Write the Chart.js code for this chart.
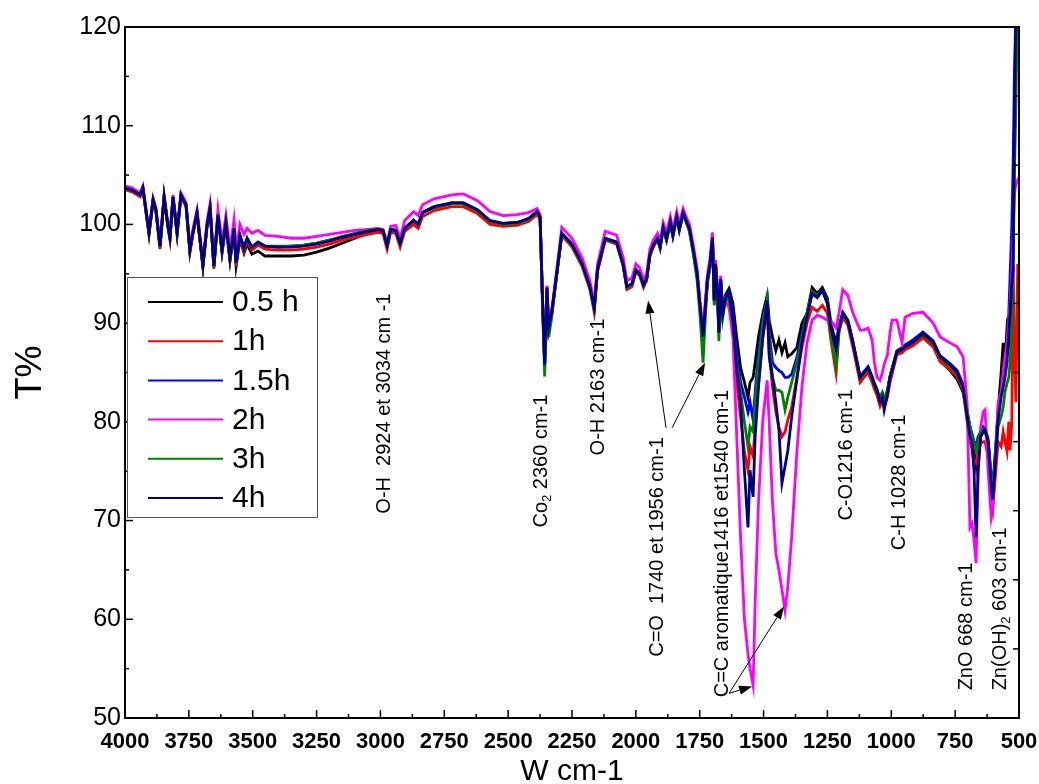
<!DOCTYPE html>
<html><head><meta charset="utf-8">
<script src="https://cdn.jsdelivr.net/npm/chart.js@4/dist/chart.umd.min.js"></script>
<style>html,body{margin:0;padding:0;background:#fff;}canvas{display:block;}</style>
</head><body>
<canvas id="c" width="1039" height="784"></canvas>
<script>
// ---------- DATA ----------
const wavenumbers = [4000,3973,3941,3930,3906,3890,3879,3863,3847,3832, 3824,3812,3796,3781,3761,3746,3734,3718,3706,3695, 3679,3667,3652,3636,3620,3605,3589,3573,3565,3550, 3534,3522,3503,3479,3452,3400,3350,3300,3250,3200, 3150,3100,3050,3010,2990,2974,2960,2940,2923,2905, 2870,2852,2835,2790,2720,2676,2620,2571,2520,2465, 2420,2387,2375,2365,2357,2348,2341,2330,2310,2290, 2250,2210,2180,2163,2150,2120,2075,2050,2035,2015, 2000,1985,1970,1958,1945,1930,1915,1905,1893,1880, 1865,1855,1840,1830,1815,1800,1790,1775,1760,1748, 1737,1727,1720,1710,1700,1693,1688,1680,1675,1668, 1660,1650,
1635,1620,1605,1590,1575,1561,1553,1541,1533,1520, 1503,1486,1478,1465,1452,1440,1428,1416,1405,1390, 1370,1350,1330,1310,1290,1270,
1250,1235,1216,1205,1190,1170,1150,1122,1110,1091, 1075,1066,1056,1044,1035,1028,1015,1005,997,978, 958,946,915,876,836,809,770,742,719,703, 692,684,676,668,660,650,640,633,621,609, 603,594,582,570,562,555,547,540,535,528, 523,518,512,505,500];

const t05h = [103.6,103.4,102.9,103.6,99.1,102.4,101.4,97.7,102.7,99.8, 98.6,102.7,99.1,102.9,101.9,97.3,99.1,101.1,98.3,95.8, 99.8,101.6,95.7,100.9,97.2,100.0,96.3,99.3,95.8,98.5, 97.1,98.0,97.0,97.3,96.8,96.8,96.8,96.9,97.2,97.6, 98.1,98.6,99.1,99.4,99.4,98.0,99.5,99.4,98.2,99.6, 100.4,100.0,101.2,101.7,102.1,102.1,101.4,100.3,100.0,100.1, 100.5,101.2,100.7,92.0,86.0,93.5,89.4,90.9,94.9,99.0, 97.9,95.9,93.6,91.5,95.4,98.5,98.1,95.9,93.6,93.9, 95.3,94.9,93.8,94.4,96.9,97.9,98.5,97.7,99.6,98.5, 100.2,98.9,100.7,99.5,101.1,100.1,99.5,97.3,94.9,91.5, 89.0,92.0,94.3,95.9,98.6,92.2,95.9,92.9,89.2,94.4, 91.2,92.8,
93.5,92.0,88.5,85.5,84.0,82.5,84.0,84.5,86.0,88.6, 91.0,92.8,90.3,88.6,87.2,88.3,87.0,88.0,86.6,86.9, 87.5,90.0,91.0,93.6,93.0,93.6,
92.5,89.8,88.0,89.6,91.0,90.2,88.0,84.4,84.8,85.4, 84.4,83.7,83.1,82.3,82.8,82.0,83.2,84.6,85.4,87.0, 87.1,87.4,87.9,88.8,87.8,86.2,85.2,84.3,83.0,81.0, 79.5,78.5,77.0,75.5,77.5,78.5,79.0,79.0,78.0,74.0, 73.0,76.0,81.0,85.0,88.0,86.0,89.5,88.5,92.0,95.0, 98.0,110.0,122.0,125.0,125.0];

const t1h = [103.5,103.3,102.8,103.5,98.9,102.3,101.3,97.5,102.6,99.7, 98.4,102.6,98.9,102.8,101.8,97.1,99.0,101.0,98.2,95.6, 99.7,101.5,95.5,100.8,97.1,99.9,96.3,99.3,95.8,98.6, 97.3,98.3,97.4,97.9,97.5,97.4,97.4,97.5,97.7,98.0, 98.4,98.7,99.0,99.2,99.1,97.5,99.2,99.1,97.7,99.3, 100.0,99.6,100.8,101.4,101.8,101.8,101.1,100.0,99.8,99.9, 100.3,101.0,100.5,91.8,85.8,93.4,89.3,90.8,94.8,98.9, 97.7,95.7,93.4,91.1,95.2,98.4,98.0,95.8,93.4,93.7, 95.2,94.8,93.6,94.3,96.8,97.8,98.4,97.6,99.5,98.4, 100.1,98.8,100.6,99.4,101.0,100.0,99.3,97.1,94.7,91.3, 88.8,91.8,94.1,95.7,98.4,92.0,95.7,92.7,89.0,94.2, 91.0,92.4,
92.5,89.5,84.0,80.5,77.0,75.1,77.5,76.5,79.5,84.0, 88.5,91.5,87.0,83.5,81.0,79.5,78.5,79.0,80.2,81.5, 84.5,87.5,90.0,91.6,91.2,91.8,
91.0,88.0,84.9,89.0,90.6,89.8,87.5,84.0,84.4,85.0, 84.0,83.3,82.7,81.6,82.2,81.5,82.5,84.0,84.8,86.8, 87.0,87.3,87.7,88.5,87.6,86.1,85.3,84.6,83.2,80.0, 78.0,77.2,76.0,75.8,77.0,77.8,78.0,78.0,76.5,72.0, 71.0,74.0,78.0,77.5,79.0,78.0,77.0,80.0,77.1,80.0, 95.7,88.0,82.0,96.0,94.0];

const t15h = [103.6,103.5,103.0,103.7,99.2,102.5,101.5,97.8,102.8,99.9, 98.7,102.8,99.2,103.0,102.0,97.4,99.2,101.2,98.4,95.9, 99.9,101.7,95.8,101.0,97.4,100.2,96.6,99.6,96.1,98.9, 97.6,98.6,97.7,98.2,97.8,97.7,97.8,97.9,98.1,98.4, 98.7,99.0,99.3,99.5,99.4,97.9,99.5,99.4,98.2,99.6, 100.4,100.0,101.2,101.8,102.1,102.1,101.4,100.3,100.1,100.2, 100.6,101.3,100.8,92.0,85.9,93.6,89.4,90.9,95.0,99.1, 98.0,96.0,93.7,91.6,95.5,98.6,98.2,96.0,93.7,94.0, 95.4,95.0,93.9,94.5,97.0,98.0,98.6,97.6,99.7,98.4, 100.3,98.8,100.8,99.4,101.2,100.2,99.6,97.4,95.0,91.6, 88.8,92.0,94.4,96.0,98.7,92.3,96.0,93.0,89.2,94.5, 91.2,92.6,
93.2,91.0,87.0,84.0,82.5,81.0,82.0,80.2,83.0,87.0, 90.5,92.5,89.0,86.0,85.5,85.2,85.0,84.5,84.5,84.8, 86.5,89.0,91.0,93.0,92.6,93.3,
92.0,89.3,87.5,89.5,91.1,90.3,88.1,84.6,85.0,85.6, 84.6,83.9,83.3,82.2,82.7,81.8,83.0,84.6,85.4,87.2, 87.5,87.8,88.3,89.1,88.2,86.7,85.9,85.2,83.8,81.0, 79.5,78.8,78.0,77.5,78.5,79.0,79.5,79.3,78.3,74.5, 73.5,76.5,81.0,83.0,84.0,85.5,88.0,91.0,94.7,100.0, 106.0,115.0,122.0,125.0,125.0];

const t2h = [103.9,103.7,103.2,103.9,99.4,102.7,101.7,98.0,103.0,100.1, 98.9,103.0,99.4,103.2,102.2,97.7,99.5,101.5,98.8,96.2, 100.3,102.1,96.2,101.5,98.2,100.9,97.6,100.5,97.4,100.0, 99.0,99.6,99.1,99.4,98.9,98.8,98.6,98.6,98.8,99.0, 99.2,99.4,99.5,99.6,99.5,98.1,99.8,99.9,98.6,100.4, 101.3,100.9,102.0,102.6,103.0,103.1,102.4,101.3,100.9,101.0, 101.2,101.6,101.0,92.2,86.2,93.8,89.8,91.2,95.4,99.7, 98.6,96.6,94.3,92.0,96.0,99.3,98.9,96.7,94.3,94.6, 96.0,95.6,94.4,95.0,97.5,98.5,99.1,98.3,100.2,99.2, 100.8,99.5,101.3,100.1,101.6,100.6,100.0,97.9,95.5,92.0, 89.4,92.5,94.9,96.5,99.2,92.8,96.4,93.5,89.6,94.8, 91.4,92.4,
91.5,88.6,78.5,68.3,60.0,56.5,55.0,53.3,61.6,71.8, 80.2,84.2,80.0,71.8,66.7,65.0,63.0,60.9,63.3,68.3, 76.8,83.5,88.0,90.3,90.8,90.6,
90.3,90.2,89.5,91.0,93.4,92.8,91.0,89.3,89.3,89.5, 88.3,86.0,84.5,84.2,85.0,85.8,86.8,89.0,90.3,90.3, 88.0,90.6,91.0,91.1,90.0,88.6,88.0,87.6,86.6,81.9, 69.3,69.7,68.0,65.7,75.1,79.5,81.0,81.2,75.1,70.4, 71.5,75.1,81.9,83.0,85.0,86.5,88.0,90.0,92.0,95.0, 99.0,103.0,104.2,104.5,104.0];

const t3h = [103.6,103.5,103.0,103.7,99.1,102.5,101.5,97.7,102.8,99.9, 98.6,102.8,99.1,103.0,102.0,97.3,99.2,101.2,98.4,95.8, 99.9,101.7,95.7,101.0,97.3,100.2,96.5,99.6,96.0,98.9, 97.6,98.6,97.7,98.2,97.8,97.8,97.8,97.9,98.1,98.4, 98.8,99.1,99.4,99.5,99.4,97.9,99.5,99.4,98.0,99.6, 100.4,100.0,101.2,101.7,102.1,102.1,101.4,100.3,100.0,100.1, 100.5,101.2,100.7,91.5,84.6,93.2,88.6,90.5,94.9,99.0, 97.9,95.9,93.6,91.5,95.4,98.5,98.1,95.9,93.6,93.9, 95.3,94.9,93.8,94.4,96.9,97.9,98.5,97.7,99.6,98.5, 100.2,98.9,100.7,99.5,101.1,100.1,99.2,97.0,94.3,90.5, 86.0,91.0,94.0,95.6,98.4,91.8,95.6,92.5,88.2,94.0, 90.5,92.2,
92.5,90.0,86.0,83.0,80.0,77.5,79.5,79.0,82.0,86.0, 90.0,92.5,88.0,84.5,83.2,83.2,83.0,81.2,82.5,84.0, 86.0,88.5,91.0,93.2,92.8,93.4,
92.2,88.5,85.6,89.3,90.9,90.1,87.9,84.4,84.8,85.4, 84.4,83.7,83.1,82.6,83.0,82.3,83.2,84.6,85.4,87.1, 87.3,87.6,88.1,88.9,88.0,86.5,85.6,84.9,83.6,81.0, 79.5,78.5,77.8,77.0,78.0,79.0,79.2,79.2,78.0,74.5, 73.5,75.5,79.5,80.5,81.5,83.0,83.9,84.5,86.0,90.0, 96.0,105.0,112.0,125.0,125.0];

const t4h = [103.7,103.5,103.0,103.7,99.2,102.5,101.5,97.8,102.8,99.9, 98.7,102.8,99.2,103.0,102.0,97.4,99.2,101.2,98.4,95.9, 99.9,101.7,95.8,101.0,97.4,100.2,96.6,99.6,96.1,98.9, 97.6,98.6,97.7,98.2,97.8,97.7,97.7,97.8,98.0,98.3, 98.7,99.0,99.3,99.5,99.4,97.9,99.5,99.4,98.1,99.6, 100.4,100.0,101.2,101.8,102.2,102.2,101.5,100.4,100.1,100.2, 100.6,101.3,100.8,92.0,85.8,93.6,89.6,91.0,95.0,99.1, 98.0,96.0,93.7,91.6,95.5,98.6,98.2,96.0,93.7,94.0, 95.4,95.0,93.9,94.5,97.0,98.0,98.6,97.8,99.7,98.6, 100.3,99.0,100.8,99.6,101.2,100.2,99.6,97.4,95.0,91.6, 88.6,92.0,94.4,96.0,98.7,92.3,96.0,93.0,89.0,94.5, 91.0,92.5,
93.0,90.3,85.2,81.9,75.1,69.3,75.1,72.4,78.5,83.5, 88.6,92.3,86.6,84.5,82.0,79.2,73.8,75.5,77.1,80.5, 84.2,88.0,90.6,93.0,92.6,93.4,
92.0,89.3,87.3,89.5,91.0,90.2,88.0,84.5,84.9,85.5, 84.5,83.8,83.2,82.0,82.5,81.2,82.8,84.5,85.2,87.1, 87.3,87.6,88.1,89.0,88.1,86.6,85.8,85.0,83.5,80.5, 78.5,77.9,75.0,68.3,75.1,78.5,79.0,79.2,78.0,73.5, 72.1,75.1,80.2,82.5,83.5,84.5,86.0,89.0,91.0,94.0, 95.4,110.0,122.0,125.0,125.0];

const seriesLabels = ['0.5 h', '1h', '1.5h', '2h', '3h', '4h'];
const seriesValues = [t05h, t1h, t15h, t2h, t3h, t4h];
const seriesColors = ['#000000', '#ff0000', '#0000ff', '#ff00ff', '#008000', '#000080'];

const xMin = 500, xMax = 4000, xStep = 250;
const yMin = 50, yMax = 120, yStep = 10;
const rightAxisTicks = [113, 106, 99, 92, 85, 78, 71, 64, 57];

// peak labels: wavenumber / T% of the start (bottom) of the vertical text
const annotations = [
  {w: 2986, t: 70.7, parts: [['O-H  2924 et 3034 cm -1']]},
  {w: 2371, t: 69.3, parts: [['Co'], ['2', 1], [' 2360 cm-1']]},
  {w: 2148, t: 76.6, parts: [['O-H 2163 cm-1']]},
  {w: 1917, t: 56.2, parts: [['C=O  1740 et 1956 cm-1']]},
  {w: 1659, t: 52.1, parts: [['C=C aromatique1416 et1540 cm-1']]},
  {w: 1177, t: 70.0, parts: [['C-O1216 cm-1']]},
  {w: 966,  t: 67.0, parts: [['C-H 1028 cm-1']]},
  {w: 707,  t: 52.8, parts: [['ZnO 668 cm-1']]},
  {w: 574,  t: 52.8, parts: [['Zn(OH)'], ['2', 1], [' 603 cm-1']]}
];
const arrows = [
  {from: [1882, 79.4], to: [1952, 92.3]},
  {from: [1858, 79.4], to: [1729, 86.0]},
  {from: [1635, 52.5], to: [1420, 61.3]},
  {from: [1635, 52.5], to: [1545, 53.2]}
];

// ---------- DRAWING ----------
const FONT = '"Liberation Sans", Arial, Helvetica, sans-serif';

const annotationPlugin = {
  id: 'peakLabels',
  afterDatasetsDraw(chart) {
    const {ctx, scales: {x, y}} = chart;
    ctx.save();
    ctx.fillStyle = '#000';
    annotations.forEach(a => {
      const px = x.getPixelForValue(a.w), py = y.getPixelForValue(a.t);
      ctx.save();
      ctx.translate(px, py);
      ctx.rotate(-Math.PI / 2);
      ctx.textAlign = 'left';
      ctx.textBaseline = 'middle';
      let cx = 0;
      a.parts.forEach(p => {
        const sub = !!p[1];
        ctx.font = (sub ? '13px ' : '20px ') + FONT;
        ctx.fillText(p[0], cx, sub ? 6 : 0);
        cx += ctx.measureText(p[0]).width;
      });
      ctx.restore();
    });
    ctx.strokeStyle = '#000';
    ctx.lineWidth = 1;
    arrows.forEach(ar => {
      const x0 = x.getPixelForValue(ar.from[0]), y0 = y.getPixelForValue(ar.from[1]);
      const x1 = x.getPixelForValue(ar.to[0]), y1 = y.getPixelForValue(ar.to[1]);
      const ang = Math.atan2(y1 - y0, x1 - x0);
      const L = 13, H = 4.5;
      const bx = x1 - L * Math.cos(ang), by = y1 - L * Math.sin(ang);
      ctx.beginPath(); ctx.moveTo(x0, y0); ctx.lineTo(bx, by); ctx.stroke();
      ctx.beginPath();
      ctx.moveTo(x1, y1);
      ctx.lineTo(bx + H * Math.sin(ang), by - H * Math.cos(ang));
      ctx.lineTo(bx - H * Math.sin(ang), by + H * Math.cos(ang));
      ctx.closePath(); ctx.fill();
    });
    ctx.restore();
  }
};

const framePlugin = {
  id: 'frame',
  afterDraw(chart) {
    const {ctx, chartArea: {left, right, top, bottom}, scales: {x, y}} = chart;
    ctx.save();
    ctx.strokeStyle = '#000';
    ctx.lineWidth = 1.5;
    const seg = (a, b, c, d) => { ctx.beginPath(); ctx.moveTo(a, b); ctx.lineTo(c, d); ctx.stroke(); };
    const yt = y.ticks.map(t => t.value);
    yt.forEach(v => { const p = y.getPixelForValue(v); seg(left, p, left + 8, p); });
    for (let i = 0; i < yt.length - 1; i++) { const p = y.getPixelForValue((yt[i] + yt[i + 1]) / 2); seg(left, p, left + 4, p); }
    const xt = x.ticks.map(t => t.value);
    xt.forEach(v => { const p = x.getPixelForValue(v); seg(p, bottom, p, bottom - 8); });
    for (let i = 0; i < xt.length - 1; i++) { const p = x.getPixelForValue((xt[i] + xt[i + 1]) / 2); seg(p, bottom, p, bottom - 4); }
    rightAxisTicks.forEach(v => { const p = y.getPixelForValue(v); seg(right, p, right - 6, p); });
    ctx.lineWidth = 2;
    ctx.strokeRect(left, top, right - left, bottom - top);

    // legend box
    const lx = 127, ly = 277, lw = 190, lh = 240, row0 = 302, rowH = 39.2;
    ctx.fillStyle = '#fff';
    ctx.fillRect(lx, ly, lw, lh);
    ctx.strokeStyle = '#555';
    ctx.lineWidth = 1;
    ctx.strokeRect(lx + 0.5, ly + 0.5, lw, lh);
    ctx.font = '30px ' + FONT;
    ctx.textBaseline = 'middle';
    ctx.textAlign = 'left';
    chart.data.datasets.forEach((ds, i) => {
      const ry = row0 + i * rowH;
      ctx.strokeStyle = ds.borderColor;
      ctx.lineWidth = 2;
      seg(148, ry, 223, ry);
      ctx.fillStyle = '#000';
      ctx.fillText(ds.label, 232, ry + 1);
    });
    ctx.restore();
  }
};

const datasets = seriesValues.map((vals, i) => ({
  label: seriesLabels[i],
  data: wavenumbers.map((w, j) => ({x: w, y: vals[j]})).filter(p => p.y !== undefined),
  borderColor: seriesColors[i],
  backgroundColor: seriesColors[i],
  borderWidth: 2.8,
  pointRadius: 0,
  tension: 0,
  fill: false,
  order: seriesValues.length - 1 - i
}));

new Chart(document.getElementById('c'), {
  type: 'line',
  data: {datasets},
  options: {
    responsive: false,
    animation: false,
    devicePixelRatio: 1,
    layout: {padding: {left: 0, right: 20, top: 27, bottom: 0}},
    plugins: {legend: {display: false}, tooltip: {enabled: false}},
    scales: {
      x: {
        type: 'linear', reverse: true, min: xMin, max: xMax,
        grid: {display: false, drawTicks: false}, border: {display: false},
        ticks: {stepSize: xStep, autoSkip: false, maxRotation: 0, minRotation: 0, padding: 11, color: '#000',
                font: {family: FONT, size: 22, weight: 'bold'},
                callback: v => String(v)},
        title: {display: true, text: 'W cm-1', color: '#000', font: {family: FONT, size: 30, lineHeight: 1}, padding: {top: 0, bottom: -3}},
        afterFit(s) { s.height = 66; s.paddingLeft = 0; s.paddingRight = 0; }
      },
      y: {
        min: yMin, max: yMax,
        grid: {display: false, drawTicks: false}, border: {display: false},
        ticks: {stepSize: yStep, padding: 4, color: '#000', font: {family: FONT, size: 25}},
        title: {display: true, text: 'T%', color: '#000', font: {family: FONT, size: 36, lineHeight: 1}, padding: {top: 13, bottom: 0}},
        afterFit(s) { s.width = 125; s.paddingTop = 0; s.paddingBottom = 0; }
      }
    }
  },
  plugins: [annotationPlugin, framePlugin]
});
</script>
</body></html>
